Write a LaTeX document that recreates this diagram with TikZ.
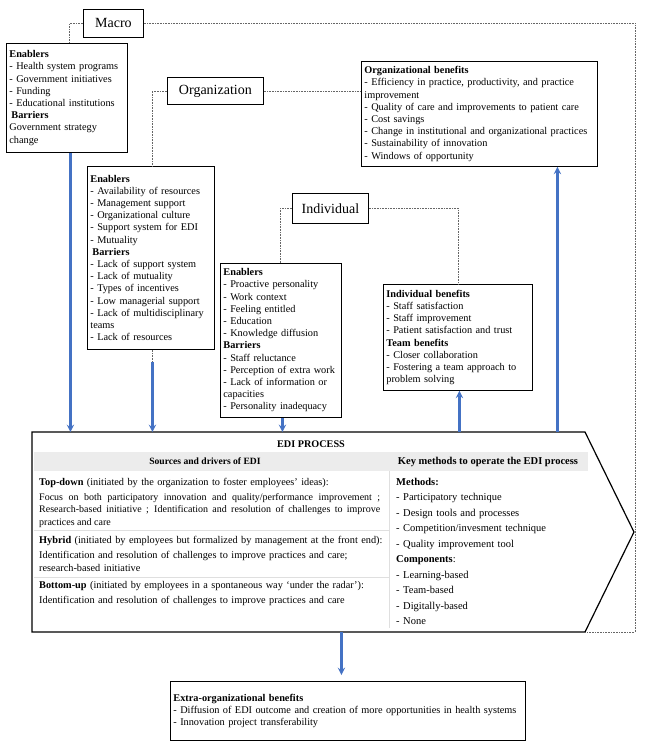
\documentclass[tikz,border=0pt]{standalone}
\usepackage{fontspec}
\setmainfont{Liberation Serif}
\usepackage{tikz}
\usetikzlibrary{arrows,positioning}
\definecolor{flowblue}{RGB}{68,114,196}
\tikzstyle{txtbox}=[draw, line width=0.8pt, anchor=north west, inner xsep=3pt, inner ysep=1pt, align=left, font=\fontsize{10.3}{12.2}\selectfont]
\tikzstyle{lvlbox}=[draw, line width=0.8pt, anchor=north west, inner sep=0pt, font=\fontsize{14}{16}\selectfont]
\tikzstyle{celltxt}=[anchor=north west, inner sep=0pt, align=left, text width=350pt, font=\fontsize{10.3}{12.5}\selectfont]
\tikzstyle{cellhead}=[inner sep=0pt, font=\bfseries\fontsize{9.6}{11}\selectfont]
\tikzstyle{dotline}=[densely dotted, gray!80!black, line width=0.6pt]
\tikzstyle{flow}=[->, flowblue, line width=2.2pt]

\begin{document}
\begin{tikzpicture}
[x=1pt, y=-1pt, >=stealth]
\useasboundingbox (0,0) rectangle (650,751);
% levels
\node[lvlbox, minimum width=60, minimum height=28] (macro) at (83,9) {Macro};
\node[lvlbox, minimum width=96, minimum height=27] (org) at (167,77) {Organization};
\node[lvlbox, minimum width=76, minimum height=30] (ind) at (292,193) {Individual};
% enablers and barriers
\node[txtbox, text width=115pt, minimum height=109] (macroF) at (6,43) {\textbf{Enablers}\\
- Health system programs\\
- Government initiatives\\
- Funding\\
- Educational institutions\\
\hspace{2pt}\textbf{Barriers}\\
Government strategy\\
change};
\node[txtbox, text width=121pt, minimum height=183] (orgF) at (87,166) {\textbf{Enablers}\\
- Availability of resources\\
- Management support\\
- Organizational culture\\
- Support system for EDI\\
- Mutuality\\
\hspace{2pt}\textbf{Barriers}\\
- Lack of support system\\
- Lack of mutuality\\
- Types of incentives\\
- Low managerial support\\
- Lack of multidisciplinary\\
teams\\
- Lack of resources};
\node[txtbox, text width=115pt, minimum height=154] (indF) at (220,263) {\textbf{Enablers}\\
- Proactive personality\\
- Work context\\
- Feeling entitled\\
- Education\\
- Knowledge diffusion\\
\textbf{Barriers}\\
- Staff reluctance\\
- Perception of extra work\\
- Lack of information or\\
capacities\\
- Personality inadequacy};
% benefits
\node[txtbox, text width=230pt, minimum height=105] (orgB) at (361,61) {\textbf{Organizational benefits}\\
- Efficiency in practice, productivity, and practice\\
improvement\\
- Quality of care and improvements to patient care\\
- Cost savings\\
- Change in institutional and organizational practices\\
- Sustainability of innovation\\
- Windows of opportunity};
\node[txtbox, text width=143pt, minimum height=106] (indB) at (383,284) {\textbf{Individual benefits}\\
- Staff satisfaction\\
- Staff improvement\\
- Patient satisfaction and trust\\
\textbf{Team benefits}\\
- Closer collaboration\\
- Fostering a team approach to\\
problem solving};
\node[txtbox, text width=349pt, minimum height=59] (extB) at (170,681) {\textbf{Extra-organizational benefits}\\
- Diffusion of EDI outcome and creation of more opportunities in health systems\\
- Innovation project transferability};
% EDI process
\draw[line width=1.2pt] (32,432) coordinate (ediNW) -- (585,432) -- (634,532) coordinate (ediTip)
  -- (585,632) coordinate (ediSE) -- (32,632) coordinate (ediSW) -- cycle;
\node[cellhead, font=\bfseries\fontsize{10.2}{11}\selectfont] (ediTitle) at (311,444) {EDI PROCESS};
\fill[gray!15] (34,452) rectangle (588,471);
\node[cellhead] (srcHead) at (205,461.5) {Sources and drivers of EDI};
\node[cellhead, font=\bfseries\fontsize{10.5}{11}\selectfont] (keyHead) at (488,461.5) {Key methods to operate the EDI process};
\draw[gray!25, line width=0.8pt] (389,471) -- (389,628);
\draw[gray!25, line width=0.8pt] (34,530) -- (389,530);
\draw[gray!25, line width=0.8pt] (34,577) -- (389,577);
\node[celltxt] (topH) at (39,478.5) {\textbf{Top-down} (initiated by the organization to foster employees’ ideas):};
\node[celltxt, text width=341pt, align=justify, font=\fontsize{10}{12.2}\selectfont] (topB) at (39,493.5) {Focus on both participatory innovation and quality/performance improvement ;\linebreak
Research-based initiative ; Identification and resolution of challenges to improve\linebreak
practices and care};
\node[celltxt] (hybH) at (39,536.5) {\textbf{Hybrid} (initiated by employees but formalized by management at the front end):};
\node[celltxt] (hybB) at (39,551.5) {Identification and resolution of challenges to improve practices and care;\\
research-based initiative};
\node[celltxt] (botH) at (39,581.5) {\textbf{Bottom-up} (initiated by employees in a spontaneous way ‘under the radar’):};
\node[celltxt] (botB) at (39,596.5) {Identification and resolution of challenges to improve practices and care};
\node[celltxt, text width=190pt, font=\fontsize{10.5}{15.5}\selectfont] (keyB) at (396,478) {\textbf{Methods:}\\
- Participatory technique\\
- Design tools and processes\\
- Competition/invesment technique\\
- Quality improvement tool\\
\textbf{Components}:\\
- Learning-based\\
- Team-based\\
- Digitally-based\\
- None};
% dotted level links
\coordinate (frameSE) at (635,632);
\draw[dotline] (macro.west) -| ([xshift=2.5pt]macroF.north);
\draw[dotline] (macro.east) -| (frameSE) -- (ediSE);
\draw[dotline] (org.west) -| ([xshift=1.5pt]orgF.north);
\draw[dotline] (org.east) -- (org.east -| orgB.west);
\draw[dotline] (ind.west) -| ([xshift=-0.5pt]indF.north);
\draw[dotline] (ind.east) -| ([xshift=0.5pt]indB.north);
\draw[dotline] ([xshift=1.5pt]orgF.south) -- ++(0,12) coordinate (orgA);
% flows
\draw[flow] ([xshift=3.5pt]macroF.south) -- ([xshift=3.5pt]macroF.south |- ediNW);
\draw[flow] (orgA) -- (orgA |- ediNW);
\draw[flow] ([xshift=1.5pt]indF.south) -- ([xshift=1.5pt]indF.south |- ediNW);
\draw[flow] ([xshift=1.5pt]indB.south |- ediNW) -- ([xshift=1.5pt]indB.south);
\draw[flow] ([xshift=78pt]orgB.south |- ediNW) -- ([xshift=78pt]orgB.south);
\draw[flow, shorten >=6pt] ([xshift=-6.5pt]extB.north |- ediSW) -- ([xshift=-6.5pt]extB.north);
\end{tikzpicture}
\end{document}
